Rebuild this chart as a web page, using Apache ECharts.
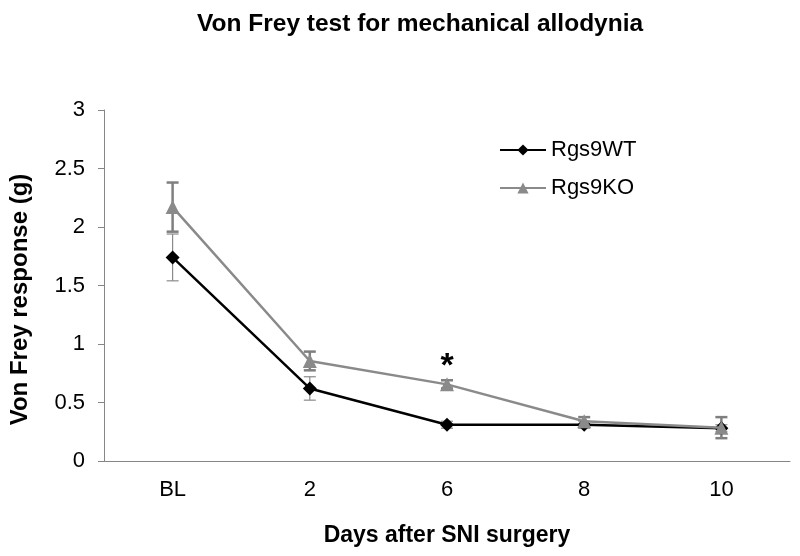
<!DOCTYPE html>
<html>
<head>
<meta charset="utf-8">
<script src="https://cdn.jsdelivr.net/npm/echarts@6/dist/echarts.min.js"></script>
<style>html,body{margin:0;padding:0;background:#fff}#c{width:800px;height:556px}</style>
</head>
<body>
<div id="c"></div>
<script>
var categories = ['BL', '2', '6', '8', '10'];
var wtMean = [1.74, 0.62, 0.31, 0.31, 0.28];
var wtErr  = [0.20, 0.10, 0.03, 0.03, 0.03];
var koMean = [2.17, 0.855, 0.655, 0.34, 0.285];
var koErr  = [0.21, 0.08, 0.035, 0.035, 0.09];
var significance = ['', '', '*', '', ''];
var yTicks = [0, 0.5, 1, 1.5, 2, 2.5, 3];

function errData(mean, err) {
  return mean.map(function (m, i) { return [i, m - err[i], m + err[i]]; });
}
function errRender(color, width, cap) {
  return function (params, api) {
    var lo = api.coord([api.value(0), api.value(1)]);
    var hi = api.coord([api.value(0), api.value(2)]);
    var st = { stroke: color, lineWidth: width };
    return { type: 'group', children: [
      { type: 'line', shape: { x1: lo[0], y1: lo[1], x2: hi[0], y2: hi[1] }, style: st },
      { type: 'line', shape: { x1: lo[0] - cap, y1: lo[1], x2: lo[0] + cap, y2: lo[1] }, style: st },
      { type: 'line', shape: { x1: hi[0] - cap, y1: hi[1], x2: hi[0] + cap, y2: hi[1] }, style: st }
    ]};
  };
}

var chart = echarts.init(document.getElementById('c'), null, { renderer: 'canvas' });
var font = 'Liberation Sans, Arial, sans-serif';
chart.setOption({
  animation: false,
  textStyle: { fontFamily: font },
  title: {
    text: 'Von Frey test for mechanical allodynia',
    left: 192, top: 7,
    textStyle: { fontSize: 24.5, fontWeight: 'bold', color: '#000', fontFamily: font }
  },
  legend: {
    left: 494, top: 134, orient: 'vertical',
    itemWidth: 46, itemHeight: 14, itemGap: 16,
    textStyle: { fontSize: 22, color: '#000', fontFamily: font, padding: [0, 0, 0, 0] },
    data: ['Rgs9WT', 'Rgs9KO']
  },
  grid: { left: 102, right: 10, top: 110, bottom: 95 },
  xAxis: {
    type: 'category', data: categories, boundaryGap: true,
    name: 'Days after SNI surgery', nameLocation: 'middle', nameGap: 63,
    nameTextStyle: { fontSize: 23, fontWeight: 'bold', color: '#000', fontFamily: font },
    axisLine: { lineStyle: { color: '#868686', width: 1 } },
    axisTick: { alignWithLabel: true, length: 6, lineStyle: { color: '#868686' } },
    axisLabel: { fontSize: 22, color: '#000', margin: 18, fontFamily: font }
  },
  yAxis: {
    type: 'value', min: 0, max: 3, interval: 0.5,
    name: 'Von Frey response (g)', nameLocation: 'middle', nameGap: 72, nameRotate: 90,
    nameTextStyle: { fontSize: 24, fontWeight: 'bold', color: '#000', fontFamily: font, padding: [0, 28, 0, 0] },
    axisLine: { show: true, lineStyle: { color: '#868686', width: 1 } },
    axisTick: { show: true, length: 6, lineStyle: { color: '#868686' } },
    splitLine: { show: false },
    axisLabel: { fontSize: 22, color: '#000', margin: 19, fontFamily: font,
      formatter: function (v) { return yTicks.indexOf(v) >= 0 ? String(v) : ''; } }
  },
  series: [
    { type: 'custom', name: 'wtErr', data: errData(wtMean, wtErr),
      renderItem: errRender('#8a8a8a', 1.2, 6), z: 1, silent: true },
    { type: 'custom', name: 'koErr', data: errData(koMean, koErr),
      renderItem: errRender('#7f7f7f', 2.5, 6), z: 1, silent: true },
    { type: 'line', name: 'Rgs9WT', data: wtMean, symbol: 'diamond', symbolSize: 14,
      lineStyle: { color: '#000', width: 2.5 }, itemStyle: { color: '#000' }, z: 3 },
    { type: 'line', name: 'Rgs9KO', symbol: 'triangle', symbolSize: 14,
      data: koMean.map(function (v, i) {
        return significance[i] ? { value: v, label: { show: true, position: 'top', distance: -6,
          formatter: significance[i], fontSize: 34, fontWeight: 'bold', color: '#000', fontFamily: font } } : v;
      }),
      lineStyle: { color: '#8a8a8a', width: 2.5 }, itemStyle: { color: '#8a8a8a' }, z: 4 }
  ]
});
</script>
</body>
</html>
